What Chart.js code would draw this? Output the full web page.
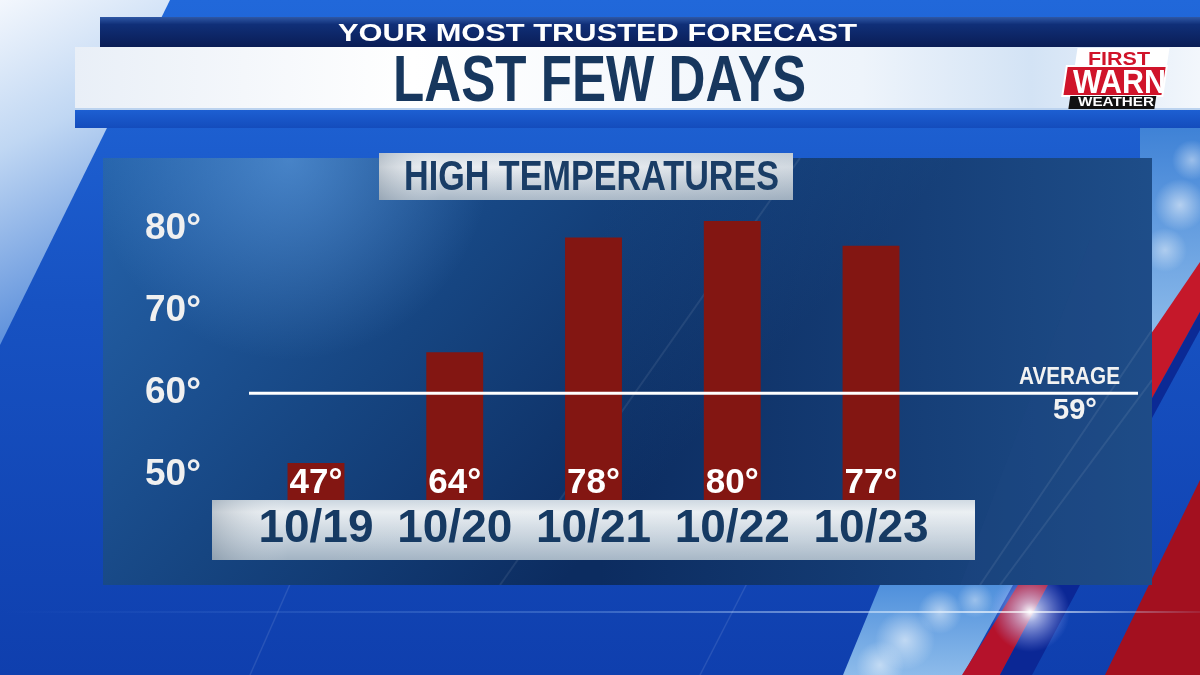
<!DOCTYPE html>
<html>
<head>
<meta charset="utf-8">
<script src="https://cdn.jsdelivr.net/npm/chart.js@4.4.1/dist/chart.umd.min.js"></script>
<style>
  html, body { margin: 0; padding: 0; background: #1550bf; }
  #wrap { width: 1200px; height: 675px; }
</style>
</head>
<body>
<div id="wrap"><canvas id="chart" width="1200" height="675"></canvas></div>
<script>
var days = ['10/19', '10/20', '10/21', '10/22', '10/23'];
var highs = [47, 64, 78, 80, 77];
var yTicks = [50, 60, 70, 80];
var yMin = 46;
var yMax = 85;
var average = 59;

var FONT = "'Liberation Sans', Arial, sans-serif";

// draw bold text squeezed/stretched to a given cap height and width
function fitText(ctx, text, left, baseline, capH, width, color) {
    var size = capH / 0.716;
    ctx.save();
    ctx.font = 'bold ' + size + 'px ' + FONT;
    ctx.textAlign = 'left';
    ctx.textBaseline = 'alphabetic';
    var w = ctx.measureText(text).width;
    ctx.translate(left, baseline);
    ctx.scale(width / w, 1);
    ctx.fillStyle = color;
    ctx.fillText(text, 0, 0);
    ctx.restore();
}

function poly(ctx, pts, fill) {
    ctx.beginPath();
    ctx.moveTo(pts[0][0], pts[0][1]);
    for (var i = 1; i < pts.length; i++) ctx.lineTo(pts[i][0], pts[i][1]);
    ctx.closePath();
    ctx.fillStyle = fill;
    ctx.fill();
}

function puff(ctx, x, y, r, a) {
    var g = ctx.createRadialGradient(x, y, 0, x, y, r);
    g.addColorStop(0, 'rgba(255,255,255,' + a + ')');
    g.addColorStop(1, 'rgba(255,255,255,0)');
    ctx.fillStyle = g;
    ctx.fillRect(x - r, y - r, r * 2, r * 2);
}

var backdrop = {
    id: 'backdrop',
    beforeDraw: function (chart) {
        var ctx = chart.ctx;
        ctx.save();

        // base blue
        var g = ctx.createLinearGradient(0, 0, 0, 675);
        g.addColorStop(0, '#2168da');
        g.addColorStop(0.45, '#1752c2');
        g.addColorStop(1, '#0f3fae');
        ctx.fillStyle = g;
        ctx.fillRect(0, 0, 1200, 675);

        // light wedge upper left
        g = ctx.createLinearGradient(0, 0, 150, 300);
        g.addColorStop(0, '#f3f7fd');
        g.addColorStop(0.4, '#c0d7f3');
        g.addColorStop(1, '#4f86d8');
        poly(ctx, [[0, 0], [170, 0], [0, 345]], g);

        // faint diagonal streaks
        ctx.strokeStyle = 'rgba(255,255,255,0.1)';
        ctx.lineWidth = 1.5;
        [[960, 0, 1010, -120], [250, 675, 380, 380], [700, 675, 800, 480]].forEach(function (l) {
            ctx.beginPath(); ctx.moveTo(l[0], l[1]); ctx.lineTo(l[2], l[3]); ctx.stroke();
        });

        // sky patches
        ctx.save();
        ctx.beginPath();
        ctx.moveTo(880, 585); ctx.lineTo(1013, 585); ctx.lineTo(963, 675); ctx.lineTo(843, 675);
        ctx.closePath();
        g = ctx.createLinearGradient(0, 585, 0, 675);
        g.addColorStop(0, '#4f90dc');
        g.addColorStop(1, '#8dbbea');
        ctx.fillStyle = g;
        ctx.fill();
        ctx.clip();
        puff(ctx, 905, 640, 30, 0.55);
        puff(ctx, 940, 612, 22, 0.5);
        puff(ctx, 880, 665, 24, 0.5);
        puff(ctx, 975, 600, 18, 0.4);
        ctx.restore();

        ctx.save();
        ctx.beginPath();
        ctx.moveTo(1140, 128); ctx.lineTo(1200, 128); ctx.lineTo(1200, 265); ctx.lineTo(1140, 350);
        ctx.closePath();
        g = ctx.createLinearGradient(0, 128, 0, 335);
        g.addColorStop(0, '#3f82d6');
        g.addColorStop(1, '#8dbbea');
        ctx.fillStyle = g;
        ctx.fill();
        ctx.clip();
        puff(ctx, 1180, 205, 26, 0.55);
        puff(ctx, 1192, 160, 20, 0.45);
        puff(ctx, 1165, 250, 22, 0.45);
        ctx.restore();

        // red stripes right
        poly(ctx, [[1200, 262], [1200, 312], [1140, 420], [1140, 350]], '#c5182a');
        poly(ctx, [[1200, 312], [1200, 330], [1140, 440], [1140, 420]], '#0b2a95');
        poly(ctx, [[1018, 585], [1048, 585], [1000, 675], [962, 675]], '#b5122b');
        poly(ctx, [[1200, 480], [1200, 675], [1105, 675]], '#a3101f');
        poly(ctx, [[1048, 585], [1080, 585], [1032, 675], [1000, 675]], '#0b2795');

        // lens flare
        g = ctx.createRadialGradient(1030, 612, 0, 1030, 612, 40);
        g.addColorStop(0, 'rgba(255,255,255,1)');
        g.addColorStop(0.25, 'rgba(220,225,255,0.7)');
        g.addColorStop(1, 'rgba(160,170,255,0)');
        ctx.fillStyle = g;
        ctx.fillRect(980, 570, 100, 90);
        g = ctx.createLinearGradient(0, 0, 1200, 0);
        g.addColorStop(0, 'rgba(140,190,255,0)');
        g.addColorStop(0.5, 'rgba(170,210,255,0.25)');
        g.addColorStop(0.86, 'rgba(255,255,255,0.7)');
        g.addColorStop(1, 'rgba(170,210,255,0.1)');
        ctx.fillStyle = g;
        ctx.fillRect(0, 611, 1200, 2);

        // header dark band
        g = ctx.createLinearGradient(0, 17, 0, 47);
        g.addColorStop(0, '#2f58a5');
        g.addColorStop(0.25, '#102f78');
        g.addColorStop(1, '#0a1d55');
        ctx.fillStyle = g;
        ctx.fillRect(100, 17, 1100, 30);

        // white strip
        g = ctx.createLinearGradient(75, 0, 1200, 0);
        g.addColorStop(0, '#e9eff7');
        g.addColorStop(0.3, '#ffffff');
        g.addColorStop(0.7, '#eef4fb');
        g.addColorStop(0.85, '#d3e3f5');
        g.addColorStop(1, '#f3f7fc');
        ctx.fillStyle = g;
        ctx.fillRect(75, 47, 1125, 63);
        ctx.fillStyle = '#bcd3ef';
        ctx.fillRect(75, 108, 1125, 2);

        // blue strip under header
        g = ctx.createLinearGradient(0, 110, 0, 128);
        g.addColorStop(0, '#1d5fd2');
        g.addColorStop(1, '#144cbc');
        ctx.fillStyle = g;
        ctx.fillRect(75, 110, 1125, 18);

        // chart panel
        g = ctx.createLinearGradient(103, 158, 560, 585);
        g.addColorStop(0, '#2563ab');
        g.addColorStop(0.55, '#164581');
        g.addColorStop(1, '#0c2c60');
        ctx.fillStyle = g;
        ctx.fillRect(103, 158, 1049, 427);
        g = ctx.createLinearGradient(600, 0, 1152, 0);
        g.addColorStop(0, 'rgba(40,100,170,0)');
        g.addColorStop(1, 'rgba(45,105,170,0.55)');
        ctx.fillStyle = g;
        ctx.fillRect(600, 158, 552, 427);
        g = ctx.createRadialGradient(290, 160, 0, 290, 160, 200);
        g.addColorStop(0, 'rgba(120,185,255,0.45)');
        g.addColorStop(1, 'rgba(120,185,255,0)');
        ctx.fillStyle = g;
        ctx.fillRect(103, 158, 500, 220);
        ctx.save();
        ctx.beginPath();
        ctx.rect(103, 158, 1049, 427);
        ctx.clip();
        poly(ctx, [[960, 585], [1152, 585], [1152, 240], [1090, 240]], 'rgba(30,70,130,0.25)');
        ctx.strokeStyle = 'rgba(255,255,255,0.08)';
        ctx.lineWidth = 2;
        [[500, 585, 800, 158], [980, 585, 1152, 330], [1000, 585, 1152, 380]].forEach(function (l) {
            ctx.beginPath(); ctx.moveTo(l[0], l[1]); ctx.lineTo(l[2], l[3]); ctx.stroke();
        });
        ctx.restore();

        // title box
        g = ctx.createLinearGradient(0, 153, 0, 200);
        g.addColorStop(0, '#d3dbe3');
        g.addColorStop(0.3, '#e9edf1');
        g.addColorStop(1, '#a8b7c6');
        ctx.fillStyle = g;
        ctx.fillRect(379, 153, 414, 47);
        g = ctx.createLinearGradient(379, 0, 793, 0);
        g.addColorStop(0, 'rgba(120,135,150,0.35)');
        g.addColorStop(0.15, 'rgba(255,255,255,0)');
        g.addColorStop(1, 'rgba(120,140,160,0.2)');
        ctx.fillStyle = g;
        ctx.fillRect(379, 153, 414, 47);

        // date bar
        g = ctx.createLinearGradient(0, 500, 0, 560);
        g.addColorStop(0, '#cbd6e0');
        g.addColorStop(0.2, '#e9eef2');
        g.addColorStop(0.65, '#c3cfda');
        g.addColorStop(1, '#a2b3c3');
        ctx.fillStyle = g;
        ctx.fillRect(212, 500, 763, 60);
        g = ctx.createLinearGradient(212, 0, 975, 0);
        g.addColorStop(0, 'rgba(110,125,140,0.35)');
        g.addColorStop(0.1, 'rgba(255,255,255,0)');
        g.addColorStop(1, 'rgba(255,255,255,0.1)');
        ctx.fillStyle = g;
        ctx.fillRect(212, 500, 763, 60);

        // header texts
        fitText(ctx, 'YOUR MOST TRUSTED FORECAST', 338, 41, 17, 519, '#ffffff');
        fitText(ctx, 'LAST FEW DAYS', 393, 101, 46, 413, '#17375e');
        fitText(ctx, 'HIGH TEMPERATURES', 404, 190, 31, 375, '#1a3d66');

        // logo
        ctx.save();
        ctx.translate(1115, 78);
        ctx.transform(1, 0, -0.15, 1, 0, 0);
        ctx.fillStyle = '#ffffff';
        ctx.fillRect(-42, -30, 92, 19);
        ctx.fillStyle = '#d0142a';
        ctx.fillRect(-50, -12, 100, 30);
        ctx.strokeStyle = '#ffffff';
        ctx.lineWidth = 2;
        ctx.strokeRect(-50, -12, 100, 30);
        ctx.fillStyle = '#111111';
        ctx.fillRect(-42, 18, 86, 13);
        ctx.restore();
        fitText(ctx, 'FIRST', 1088, 65, 13, 62, '#d0142a');
        fitText(ctx, 'WARN', 1073, 93, 24, 93, '#ffffff');
        fitText(ctx, 'WEATHER', 1078, 106, 9, 76, '#ffffff');

        ctx.restore();
    }
};

var overlay = {
    id: 'overlay',
    afterDatasetsDraw: function (chart) {
        var ctx = chart.ctx;
        var yScale = chart.scales.y;
        var meta = chart.getDatasetMeta(0);
        ctx.save();
        ctx.fillStyle = '#ffffff';
        ctx.font = 'bold 35px ' + FONT;
        ctx.textAlign = 'center';
        ctx.textBaseline = 'alphabetic';
        meta.data.forEach(function (bar, i) {
            ctx.fillText(highs[i] + '°', bar.x, bar.base - 7);
        });

        var ay = yScale.getPixelForValue(average);
        ctx.strokeStyle = '#ffffff';
        ctx.lineWidth = 3;
        ctx.beginPath();
        ctx.moveTo(249, ay);
        ctx.lineTo(1138, ay);
        ctx.stroke();
        fitText(ctx, 'AVERAGE', 1019, ay - 9, 17, 101, '#f2f2f2');
        fitText(ctx, average + '°', 1053, ay + 26, 21, 44, '#f2f2f2');
        ctx.restore();
    }
};

new Chart(document.getElementById('chart'), {
    type: 'bar',
    data: {
        labels: days,
        datasets: [{
            data: highs,
            base: yMin,
            backgroundColor: '#831612',
            barPercentage: 0.41,
            categoryPercentage: 1,
            minBarLength: 37
        }]
    },
    options: {
        responsive: false,
        animation: false,
        devicePixelRatio: 1,
        layout: {
            padding: { left: 145, right: 259.6, top: 180, bottom: 115 }
        },
        plugins: {
            legend: { display: false },
            tooltip: { enabled: false }
        },
        scales: {
            x: {
                grid: { display: false, drawTicks: false },
                border: { display: false },
                ticks: {
                    color: '#163a63',
                    font: { family: FONT, size: 46, weight: 'bold' },
                    padding: 2,
                    maxRotation: 0,
                    autoSkip: false
                },
                afterFit: function (scale) { scale.height = 60; }
            },
            y: {
                min: yMin,
                max: yMax,
                grid: { display: false, drawTicks: false },
                border: { display: false },
                afterBuildTicks: function (scale) {
                    scale.ticks = yTicks.map(function (v) { return { value: v }; });
                },
                ticks: {
                    color: '#f0f0f0',
                    font: { family: FONT, size: 37, weight: 'bold' },
                    crossAlign: 'far',
                    labelOffset: 8,
                    callback: function (v) { return v + '°'; }
                },
                afterFit: function (scale) { scale.width = 101.6; }
            }
        }
    },
    plugins: [backdrop, overlay]
});
</script>
</body>
</html>
